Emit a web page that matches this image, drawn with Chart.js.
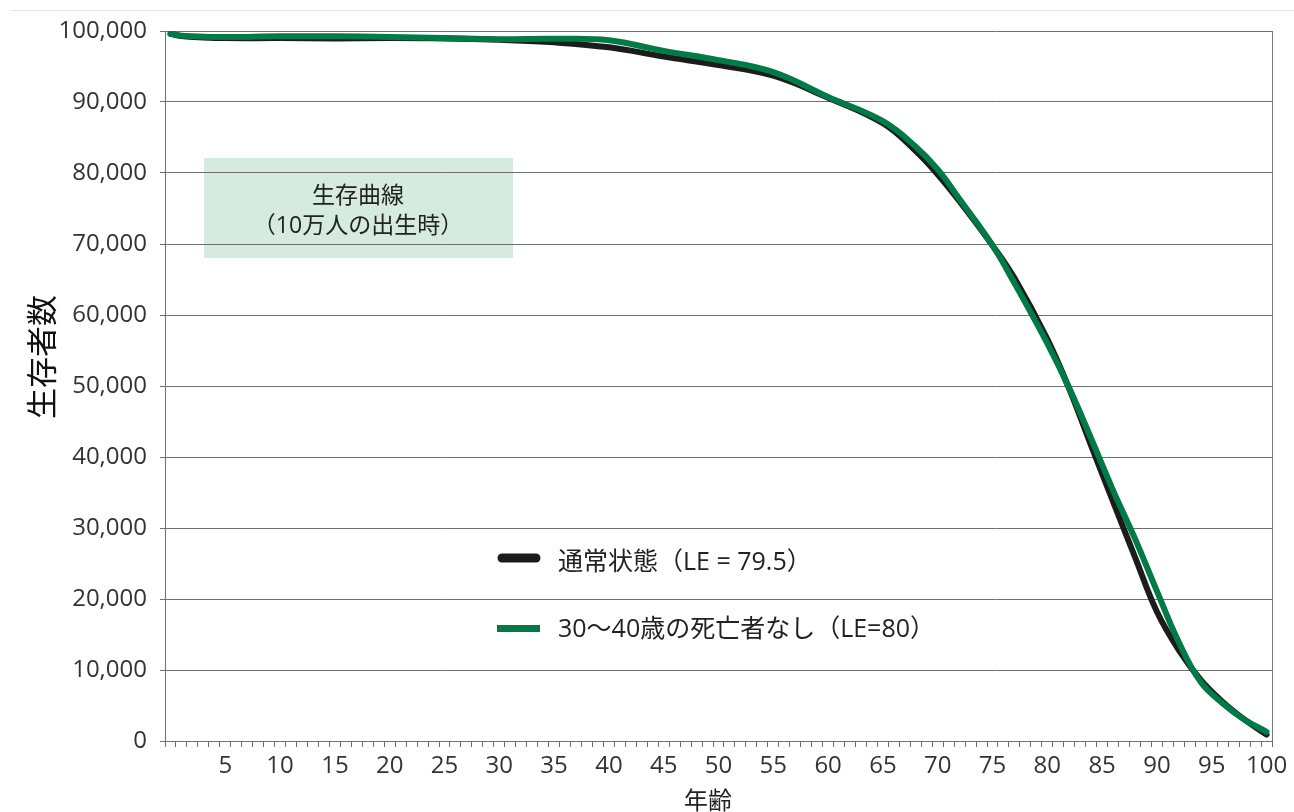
<!DOCTYPE html>
<html lang="ja">
<head>
<meta charset="utf-8">
<title>生存曲線</title>
<script src="https://cdn.jsdelivr.net/npm/chart.js@4/dist/chart.umd.min.js"></script>
<style>
  html, body { margin: 0; padding: 0; background: #ffffff; }
  #wrap { position: relative; width: 1294px; height: 812px; }
</style>
</head>
<body>
<div id="wrap"><canvas id="chart" width="1294" height="812"></canvas></div>
<script>
// Age categories shown on the x axis (0–100 years)
const ageCategories = Array.from({ length: 101 }, (_, i) => i);

// Ages at which the survivor counts were taken
const sampleAges = [0, 1, 3, 5, 10, 15, 20, 25, 30, 35, 40, 45, 50, 55, 60, 65, 68, 70, 72, 75,
  77, 80, 82, 84, 86, 88, 90, 92, 94, 96, 98, 100];

// Survivors per 100,000 births, normal conditions (LE = 79.5)
const normalSurvivors = [99600, 99300, 99100, 99000, 99000, 98950, 99000, 98950, 98750, 98400,
  97700, 96400, 95200, 93700, 90600, 87000, 83100, 79800, 76000, 69800,
  65200, 56600, 49600, 41600, 33700, 25900, 18200, 12800, 8600, 5500, 3000, 900];

// Survivors per 100,000 births, no deaths at ages 30–40 (LE = 80)
const noDeathSurvivors = [99600, 99350, 99200, 99150, 99250, 99250, 99150, 99000, 98850, 98900,
  98700, 97200, 95900, 94200, 90700, 87300, 83700, 80500, 76300, 69800,
  64500, 56000, 49700, 42600, 35300, 28500, 21100, 13900, 8300, 5300, 3000, 1300];

// Text
const seriesNames = ['通常状態（LE = 79.5）', '30～40歳の死亡者なし（LE=80）'];
const boxLines = ['生存曲線', '（10万人の出生時）'];
const yTitle = '生存者数';
const xTitle = '年齢';

const FONT = '"Open Sans", "Noto Sans CJK JP", sans-serif';
const CJK_FONT = '"Noto Sans CJK JP", "Open Sans", sans-serif';
const BLACK = '#1c1c1c';
const GREEN = '#007a46';
const GRID = '#6e6e6e';
const TEXT = '#333333';

const toPoints = values => sampleAges.map((a, i) => ({ x: a, y: values[i] }));

// Extra drawing: caption box, legend, axis titles, frame lines
const decorations = {
  id: 'decorations',
  beforeDraw(chart) {
    const { ctx } = chart;
    ctx.save();
    // light outer frame line
    ctx.strokeStyle = '#e6e6e6';
    ctx.lineWidth = 1;
    ctx.beginPath();
    ctx.moveTo(10, 10.5);
    ctx.lineTo(1294, 10.5);
    ctx.stroke();
    // caption box background
    ctx.fillStyle = '#d5ebe1';
    ctx.fillRect(204, 158, 309, 100);
    ctx.restore();
  },
  beforeDatasetsDraw(chart) {
    const { ctx, chartArea } = chart;
    ctx.save();
    ctx.strokeStyle = '#7a7a7a';
    ctx.lineWidth = 1;
    ctx.beginPath();
    ctx.moveTo(Math.round(chartArea.right) + 0.5, chartArea.top);
    ctx.lineTo(Math.round(chartArea.right) + 0.5, chartArea.bottom);
    ctx.stroke();
    ctx.restore();
  },
  afterDraw(chart) {
    const { ctx } = chart;
    ctx.save();
    // caption text
    ctx.fillStyle = '#222222';
    ctx.textAlign = 'center';
    ctx.textBaseline = 'middle';
    ctx.font = '23px ' + FONT;
    ctx.fillText(boxLines[0], 358, 196);
    ctx.fillText(boxLines[1], 358, 226);

    // legend
    ctx.lineCap = 'round';
    ctx.strokeStyle = BLACK;
    ctx.lineWidth = 9;
    ctx.beginPath();
    ctx.moveTo(502, 558);
    ctx.lineTo(536, 558);
    ctx.stroke();
    ctx.lineCap = 'butt';
    ctx.strokeStyle = GREEN;
    ctx.lineWidth = 7;
    ctx.beginPath();
    ctx.moveTo(497, 628.5);
    ctx.lineTo(540, 628.5);
    ctx.stroke();
    ctx.fillStyle = '#222222';
    ctx.textAlign = 'left';
    ctx.font = '25px ' + FONT;
    ctx.fillText(seriesNames[0], 558, 563);
    ctx.fillText(seriesNames[1], 558, 630);

    // y axis title
    ctx.save();
    ctx.translate(41, 357);
    ctx.rotate(-Math.PI / 2);
    ctx.textAlign = 'center';
    ctx.textBaseline = 'middle';
    ctx.font = '31px ' + CJK_FONT;
    ctx.fillStyle = '#111111';
    ctx.fillText(yTitle, 0, 0);
    ctx.restore();

    // x axis title
    ctx.textAlign = 'center';
    ctx.textBaseline = 'middle';
    ctx.font = '24px ' + CJK_FONT;
    ctx.fillStyle = '#222222';
    ctx.fillText(xTitle, 708, 800);
    ctx.restore();
  }
};

const lineStyle = {
  borderWidth: 6,
  pointRadius: 0,
  tension: 0.4,
  borderCapStyle: 'round',
  borderJoinStyle: 'round',
  fill: false
};

new Chart(document.getElementById('chart'), {
  type: 'line',
  data: {
    labels: ageCategories,
    datasets: [
      Object.assign({
        label: seriesNames[0],
        data: toPoints(normalSurvivors),
        borderColor: BLACK,
        backgroundColor: BLACK,
        order: 2
      }, lineStyle),
      Object.assign({
        label: seriesNames[1],
        data: toPoints(noDeathSurvivors),
        borderColor: GREEN,
        backgroundColor: GREEN,
        order: 1
      }, lineStyle)
    ]
  },
  options: {
    responsive: false,
    animation: false,
    devicePixelRatio: 1,
    layout: { padding: { top: 31, right: 22, left: 0, bottom: 0 } },
    plugins: {
      legend: { display: false },
      tooltip: { enabled: false }
    },
    scales: {
      x: {
        type: 'category',
        offset: true,
        grid: {
          offset: true,
          drawOnChartArea: false,
          drawTicks: true,
          tickLength: 6,
          color: GRID,
          lineWidth: 1
        },
        border: { display: true, color: GRID, width: 1 },
        ticks: {
          autoSkip: false,
          maxRotation: 0,
          minRotation: 0,
          padding: 5,
          color: TEXT,
          font: { family: FONT, size: 24 },
          callback(value) {
            const age = this.getLabelForValue(value);
            return (age % 5 === 0 && age > 0) ? String(age) : '';
          }
        },
        afterFit(scale) { scale.height = 71; }
      },
      y: {
        min: 0,
        max: 100000,
        grid: { color: GRID, lineWidth: 1, drawTicks: true, tickLength: 5 },
        border: { display: true, color: GRID, width: 1 },
        ticks: {
          stepSize: 10000,
          padding: 13,
          color: TEXT,
          font: { family: FONT, size: 24 },
          callback: v => Number(v).toLocaleString('en-US')
        },
        afterFit(scale) { scale.width = 165; }
      }
    }
  },
  plugins: [decorations]
});
</script>
</body>
</html>
